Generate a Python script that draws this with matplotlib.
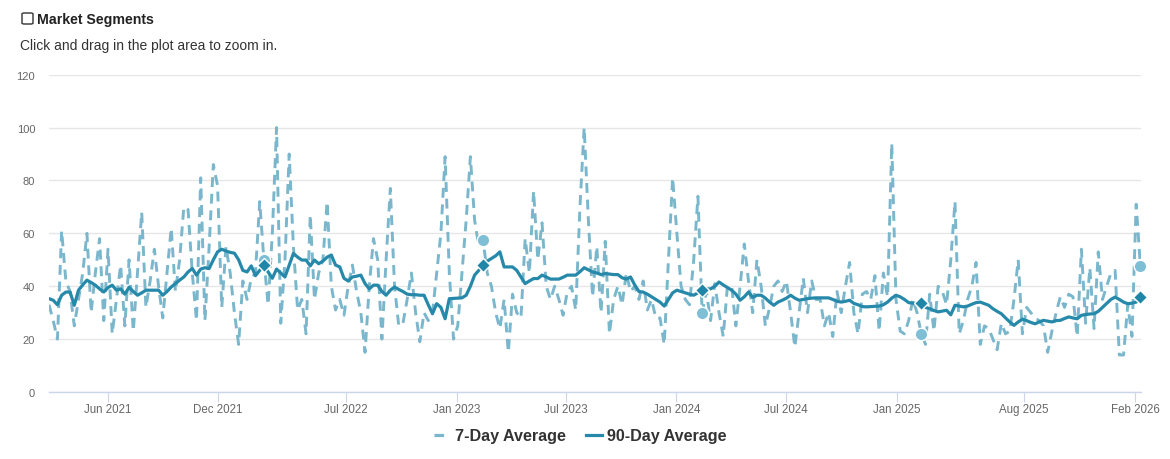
import numpy as np
import pandas as pd
import matplotlib
matplotlib.use('Agg')
import matplotlib.pyplot as plt
from matplotlib.patches import FancyBboxPatch
from matplotlib.lines import Line2D

plt.rcParams['font.family'] = ['Liberation Sans', 'DejaVu Sans']

# weekly points, 2021-02-23 .. 2026-02-10
start_date = '2021-02-23'
end_date = '2026-02-10'

avg_7day = [
    33, 27, 20, 61, 42, 38, 25, 35, 45, 60, 30, 45, 58, 27, 54, 22, 35, 48, 25, 50,
    23, 45, 68, 32, 42, 54, 40, 28, 45, 62, 38, 50, 70, 69, 45, 27, 81, 27, 55, 86,
    78, 32, 55, 45, 30, 18, 42, 35, 43, 45, 72, 50, 33, 60, 100, 26, 50, 90, 55, 31,
    35, 22, 67, 35, 45, 50, 72, 40, 31, 35, 29, 40, 48, 38, 30, 15, 40, 58, 50, 20,
    50, 77, 40, 25, 26, 35, 45, 30, 19, 30, 27, 30, 45, 60, 89, 45, 20, 25, 45, 65,
    89, 65, 55, 57.5, 45, 40, 30, 24, 35, 15, 37, 30, 28, 58, 45, 76, 50, 64, 40, 35,
    40, 35, 29, 38, 40, 31, 70, 100, 65, 36, 55, 30, 57, 22, 35, 40, 33, 45, 38, 40,
    35, 42, 31, 35, 28, 28, 18, 50, 81, 60, 40, 35, 33, 50, 74, 30, 38, 27, 41, 30,
    21, 40, 40, 25, 40, 56, 42, 30, 50, 40, 25, 32, 40, 42, 38, 42, 30, 17, 30, 43,
    30, 42, 35, 35, 25, 30, 21, 38, 30, 40, 49, 30, 22, 37, 38, 35, 44, 23, 45, 36,
    94, 35, 23, 22, 27, 35, 30, 22, 18, 37, 23, 40, 38, 33, 50, 72, 22, 27, 35, 40,
    49, 18, 25, 24, 20, 16, 26, 22, 23, 35, 50, 22, 32, 30, 28, 27, 25, 15, 23, 30,
    36, 32, 37, 36, 21, 54, 26, 47, 24, 53, 35, 40, 45, 46, 14, 14, 33, 21, 71, 47.5,
]

avg_90day = [
    35.3, 34.7, 33, 36.6, 37.8, 37.8, 32.8, 38.5, 40.5, 42.3, 41.4, 40.4, 39, 37.8, 39.5, 40.4, 38.5, 39, 37, 39.6,
    38, 36.6, 37.5, 38.5, 38.5, 38.5, 38.5, 36.6, 38, 39.7, 41, 42.3, 43.5, 45.4, 46.7, 44.2, 46.5, 47, 46.7, 50,
    53, 54, 53.3, 52.8, 52.5, 50, 46, 45.4, 47.7, 44, 46, 48, 45.4, 43, 46.5, 45, 43.5, 48, 52.4, 51,
    49.9, 49.9, 47.7, 49.9, 48.5, 49.5, 51, 51.8, 48, 47.3, 43, 42, 43.5, 43.8, 44.2, 41, 39, 40.4, 40.4, 38,
    36.6, 38.5, 39.7, 38.8, 38, 37, 36.8, 36.8, 36.6, 36.6, 33, 29.6, 33.4, 32, 27.7, 35.3, 35.4, 35.5, 35.6, 36.6,
    40, 44.2, 46, 48, 49.5, 50.5, 51.5, 53, 47.3, 47.3, 47.3, 46, 43.5, 41, 42, 42.9, 42.9, 44.2, 43.5, 42.7,
    42.7, 42.7, 43.4, 44.2, 44.2, 44.2, 45.5, 47, 46.2, 45.4, 45, 44.4, 44.8, 44.6, 44.4, 44.4, 43.2, 42.7, 43.5, 40.5,
    38, 37.8, 37, 36, 35, 34, 32.5, 35, 37.5, 38.5, 38, 37.5, 37, 36.6, 37.5, 38.6, 39, 39, 40, 41.6,
    40.5, 39.5, 38.5, 37, 34.7, 36, 37.8, 35.8, 36.6, 36.6, 35.5, 34, 32.8, 34, 34.7, 35.5, 36.6, 35.5, 34.7, 35,
    35.3, 35.5, 35.6, 35.6, 35.6, 35.6, 35, 34.3, 34, 34.3, 34.7, 33.5, 33, 32.3, 32.2, 32.3, 32.4, 32.5, 33, 34,
    35.5, 36.6, 36, 35, 33.8, 33.6, 33.5, 33.5, 32, 31.5, 30.8, 30.3, 30.6, 30.9, 29.2, 32.8, 32.5, 32.2, 32.5, 33.2,
    33.8, 34, 33.4, 32.8, 31.5, 30.5, 29.6, 28, 26.5, 25.2, 26.5, 27.5, 27, 26.3, 25.8, 26.5, 27.1, 26.8, 26.5, 27,
    27.1, 27.8, 28.4, 28, 27.7, 29, 29.3, 29.5, 29.6, 30.5, 32, 33.5, 35, 35.9, 35, 34, 33.4, 33.6, 34, 35.8,
]

# same week each year
marker_dates = ['2022-02-15', '2023-02-14', '2024-02-13', '2025-02-11', '2026-02-10']

tick_dates = ['2021-06-01', '2021-12-01', '2022-07-01', '2023-01-01', '2023-07-01',
              '2024-01-01', '2024-07-01', '2025-01-01', '2025-08-01', '2026-02-01']
tick_labels = ['Jun 2021', 'Dec 2021', 'Jul 2022', 'Jan 2023', 'Jul 2023',
               'Jan 2024', 'Jul 2024', 'Jan 2025', 'Aug 2025', 'Feb 2026']

dates = pd.date_range(start_date, end_date, freq='7D')
s7 = pd.Series(avg_7day, index=dates)
s90 = pd.Series(avg_90day, index=dates)
mk = pd.to_datetime(marker_dates)

c7 = '#7ab7cc'
c90 = '#2689aa'

fig = plt.figure(figsize=(11.7, 4.6), dpi=100)
ax = fig.add_axes([49 / 1170, 1 - 393 / 460, (1141 - 49) / 1170, (393 - 75.7) / 460])

ax.plot(dates, s7.values, color=c7, lw=2.1, linestyle=(0, (3.4, 2.3)), zorder=3)
ax.plot(dates, s90.values, color=c90, lw=2.3, zorder=4, solid_joinstyle='round')

ax.plot(mk, s7[mk].values, 'o', ms=9, color='#7ebfd6', mec='white', mew=1,
        linestyle='none', zorder=5, clip_on=False)
ax.plot(mk, s90[mk].values, 'D', ms=7, color='#1f86a8', mec='white', mew=1,
        linestyle='none', zorder=6, clip_on=False)

ax.set_ylim(0, 120)
ax.set_yticks([0, 20, 40, 60, 80, 100, 120])
ax.set_xlim(dates[0], dates[-1] + pd.Timedelta(days=1))
ax.set_xticks(pd.to_datetime(tick_dates))
ax.set_xticklabels(tick_labels)

ax.grid(axis='y', color='#e6e6e6', lw=1)
ax.set_axisbelow(True)
for side in ['top', 'right', 'left']:
    ax.spines[side].set_visible(False)
ax.spines['bottom'].set_color('#ccd6eb')
ax.spines['bottom'].set_linewidth(1)
ax.tick_params(axis='y', length=0, pad=10, labelsize=8, labelcolor='#666666')
ax.tick_params(axis='x', length=7, width=0.8, color='#ccd6eb', pad=1,
               labelsize=8.3, labelcolor='#666666')

# header
box = FancyBboxPatch((22 / 1170, 1 - 25 / 460), 11 / 1170, 11 / 460,
                     boxstyle='round,pad=0,rounding_size=0.002',
                     transform=fig.transFigure, facecolor='white',
                     edgecolor='#333333', lw=1)
fig.patches.append(box)
fig.text(37 / 1170, 1 - 20 / 460, 'Market Segments', fontsize=10.2,
         fontweight='bold', color='#222222', va='center', ha='left')
fig.text(20 / 1170, 1 - 46 / 460, 'Click and drag in the plot area to zoom in.',
         fontsize=10, color='#333333', va='center', ha='left')

# legend: one short dash for the 7-day series
handles = [Line2D([], [], color=c7, lw=2.3, linestyle=(0, (3.0, 10))),
           Line2D([], [], color=c90, lw=2.3)]
leg = fig.legend(handles, ['7-Day Average', '90-Day Average'], loc='center',
                 bbox_to_anchor=(0.496, 1 - 437 / 460), ncol=2, frameon=False,
                 handlelength=1.0, handletextpad=0.35, columnspacing=1.2,
                 prop={'weight': 'bold', 'size': 11.6})
for t in leg.get_texts():
    t.set_color('#333333')

plt.savefig('out.png', dpi=100)
